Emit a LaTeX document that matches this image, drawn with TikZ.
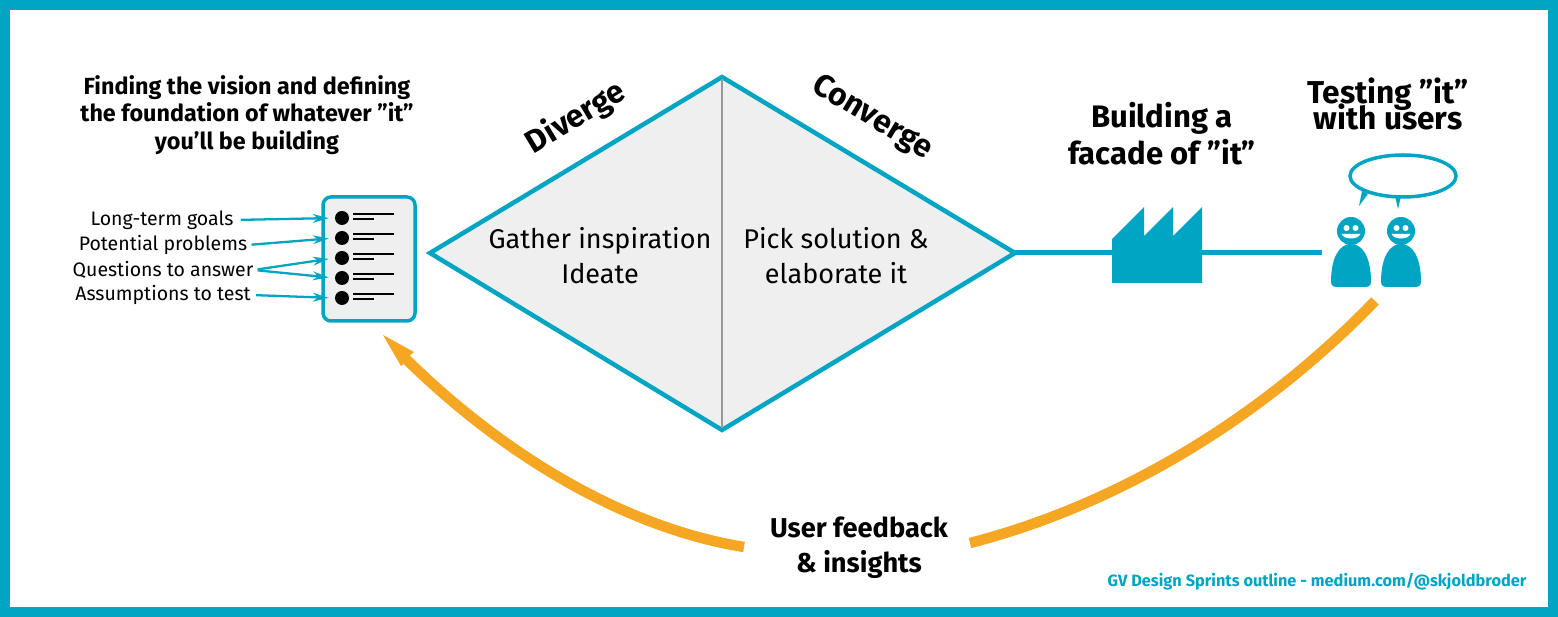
\documentclass[tikz,border=0pt]{standalone}
\usepackage{fontspec}
\setmainfont{Fira Sans}
\usetikzlibrary{arrows.meta}
\definecolor{teal}{HTML}{00A5C3}
\definecolor{amber}{HTML}{F5A623}
\definecolor{paper}{HTML}{EFEFEF}
\begin{document}
\begin{tikzpicture}[x=0.02cm,y=-0.02cm]
    \tikzset{head/.style= {font=\fontsize{18}{21}\selectfont\bfseries,
                           align=center,
                           inner sep=0pt},
             lead/.style= {font=\fontsize{13.3}{15.7}\selectfont\bfseries,
                           align=center,
                           inner sep=0pt},
             body/.style= {font=\fontsize{15.4}{20}\selectfont,
                           align=center,
                           inner sep=0pt},
             item/.style= {font=\fontsize{11.1}{12}\selectfont,
                           inner sep=0pt},
             dot/.style=  {circle,
                           fill=black,
                           inner sep=0pt,
                           minimum size=14*0.02cm},
             rule/.style= {draw=black,
                           line width=1.6pt},
             link/.style= {draw=teal,
                           line width=1.3pt,
                           -{Stealth[length=9pt,width=5pt]},
                           shorten >=6*0.02cm},
             flow/.style= {draw=amber,
                           line width=10.5*0.02cm},
             man/.pic=    {\fill[teal] (0,-22) circle (14);
                           \fill[teal] (-20,29) .. controls (-20,5) and (-12,-9) .. (0,-9)
                                .. controls (12,-9) and (20,5) .. (20,29)
                                .. controls (20,34) and (16,34) .. (12,34)
                                -- (-12,34) .. controls (-16,34) and (-20,34) .. (-20,29) -- cycle;
                           \fill[white] (-4.5,-25) circle (3) (4.5,-25) circle (3);
                           \fill[white] (-9.5,-19) -- (9.5,-19) .. controls (7,-13) and (-7,-13) .. (-9.5,-19) -- cycle;},
            }
    \fill[white] (0,0) rectangle (1558,617);
    \draw[teal,line width=10*0.02cm] (5,5) rectangle (1553,612);
    % double diamond
    \filldraw[draw=teal,fill=paper,line width=4.5*0.02cm,line join=miter]
        (430,253) -- (722,77) -- (1015,253) -- (722,430) -- cycle;
    \draw[black!40,line width=2*0.02cm] (722,79) -- (722,428);
    % factory and line to the users
    \coordinate (tip) at (1015,253);
    \coordinate (end) at (1322,253);
    \draw[teal,line width=5*0.02cm] (tip) -- (end);
    \fill[teal] (1112,283) -- (1112,239) -- (1144,207) -- (1144,236) -- (1173,207)
        -- (1173,236) -- (1202,207) -- (1202,283) -- cycle;
    % document
    \filldraw[draw=teal,fill=paper,line width=3.5*0.02cm,rounded corners=8*0.02cm]
        (323,197) rectangle (415,321);
    \path
    (342,218)  node[dot](b1) {}
    (342,238)  node[dot](b2) {}
    (342,258)  node[dot](b3) {}
    (342,278)  node[dot](b4) {}
    (342,298)  node[dot](b5) {}
    (162,220)  node[item](g) {Long-term goals}
    (163,245)  node[item](p) {Potential problems}
    (163,270)  node[item](q) {Questions to answer}
    (163,295)  node[item](a) {Assumptions to test}
    (247,75)   node[lead,anchor=north](v) {Finding the vision and defining\\the foundation of whatever ”it”\\you’ll be building}
    (600,256)  node[body](i) {Gather inspiration\\Ideate}
    (836,256)  node[body](e) {Pick solution \&\\elaborate it}
    (576,118)  node[head,rotate=31](d) {Diverge}
    (872,118)  node[head,rotate=-31](c) {Converge}
    (1162,134) node[head,font=\fontsize{17.7}{21}\selectfont\bfseries](f) {Building a\\facade of ”it”}
    (1388,104) node[head](t) {Testing ”it”\\[-5.7pt]with users}
    (859,548)  node[head,font=\fontsize{15.5}{20}\selectfont\bfseries](u) {User feedback\\\& insights}
    (1317,582) node[font=\fontsize{9.3}{11}\selectfont\bfseries,text=teal,inner sep=0pt](o) {GV Design Sprints outline - medium.com/@skjoldbroder}
    ;
    \foreach \n in {1,...,5} {
        \draw[rule] ([xshift=11*0.02cm,yshift=4*0.02cm]b\n.center) -- ++(41,0);
        \draw[rule] ([xshift=11*0.02cm,yshift=-1*0.02cm]b\n.center) -- ++(21,0);
    }
    \draw[link,shorten <=7*0.02cm] (g.east) -- (b1.west);
    \draw[link,shorten <=4*0.02cm] (p.east) -- (b2.west);
    \draw[link,shorten <=4*0.02cm] (q.east) -- (b3.west);
    \draw[link,shorten <=4*0.02cm] (q.east) -- (b4.west);
    \draw[link,shorten <=5*0.02cm] (a.east) -- (b5.west);
    % users
    \pic at (1351,253) {man};
    \pic at (1401,253) {man};
    \filldraw[draw=teal,fill=white,line width=3.5*0.02cm] (1403,176) ellipse (53 and 21);
    \fill[teal] (1362,191) -- (1359,206) -- (1368,194) -- cycle;
    \fill[teal] (1395,196) -- (1398,209) -- (1401,196) -- cycle;
    % feedback loop
    \coordinate (fr) at (970,543);
    \coordinate (fl) at (744,547);
    \coordinate (us) at (1375,301);
    \coordinate (doc) at (383,335);
    \draw[flow] (us) .. controls (1255,425) and (1110,507) .. (fr);
    \draw[flow] (fl) .. controls (620,527) and (498,450) .. (405,358);
    \fill[amber] (doc) -- (414,352) -- (408,357) -- (405,363) -- (401,366) -- cycle;
\end{tikzpicture}
\end{document}
